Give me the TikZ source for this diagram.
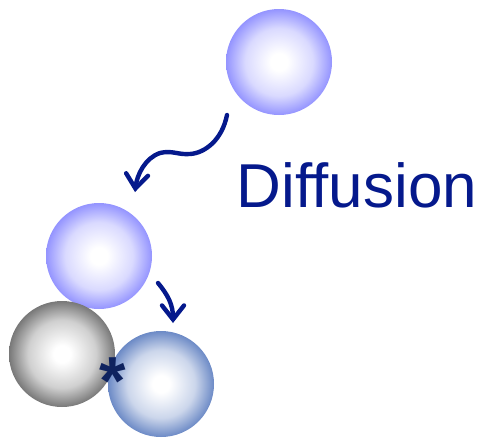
\documentclass[tikz,border=0pt]{standalone}
\usepackage{xcolor}
\usepackage{fontspec}
\setmainfont{Liberation Sans}
\usepackage{tikz}
\usetikzlibrary{arrows.meta}

\definecolor{navy}{RGB}{5,25,140}
\definecolor{starblue}{RGB}{15,35,95}
\definecolor{lavender}{RGB}{148,148,255}
\definecolor{steel}{RGB}{108,138,198}
\definecolor{stone}{RGB}{120,120,120}
\colorlet{sph}{lavender}
\pgfdeclareradialshading[sph]{sphere}{\pgfpoint{0bp}{0bp}}{color(0bp)=(white); color(4bp)=(white); color(16bp)=(sph!35!white); color(25bp)=(sph); color(50bp)=(sph)}

\begin{document}
\begin{tikzpicture}[x=1pt,y=-1pt,
		ball/.style={circle,minimum size=106pt,inner sep=0pt,/utils/exec={\colorlet{sph}{#1}},shading=sphere},
		flow/.style={navy,line width=4.4pt,line cap=round,-{Straight Barb[length=14pt,width=22pt,line cap=round]}}]
			
			\useasboundingbox (0,0) rectangle (481,437);
			
			\node[ball=lavender] (free) at (279,62) {};
			\node[ball=lavender] (near) at (99,256) {};
			\node[ball=stone] (gray) at (62,354) {};
			\node[ball=steel] (bound) at (161,384) {};
			
			\node[text=starblue,font=\fontsize{68}{68}\selectfont\bfseries,inner sep=0pt,anchor=base] (star) at (113,404) {*};
			\node[text=navy,font=\fontsize{62}{62}\selectfont,inner sep=0pt,anchor=base] (label) at (357,207) {Diffusion};
			
			\coordinate (w1) at (227,115);
			\coordinate (w2) at (135,192);
			\coordinate (h1) at (158,283);
			\coordinate (h2) at (173,323);
			
			\draw[flow] (w1) .. controls (222,140) and (205,153) .. (190,154) .. controls (178,155) and (172,150) .. (160,153) .. controls (145,158) and (137,175) .. (w2);
			\draw[flow] (h1) .. controls (168,295) and (173,305) .. (h2);
			
		\end{tikzpicture}
\end{document}
